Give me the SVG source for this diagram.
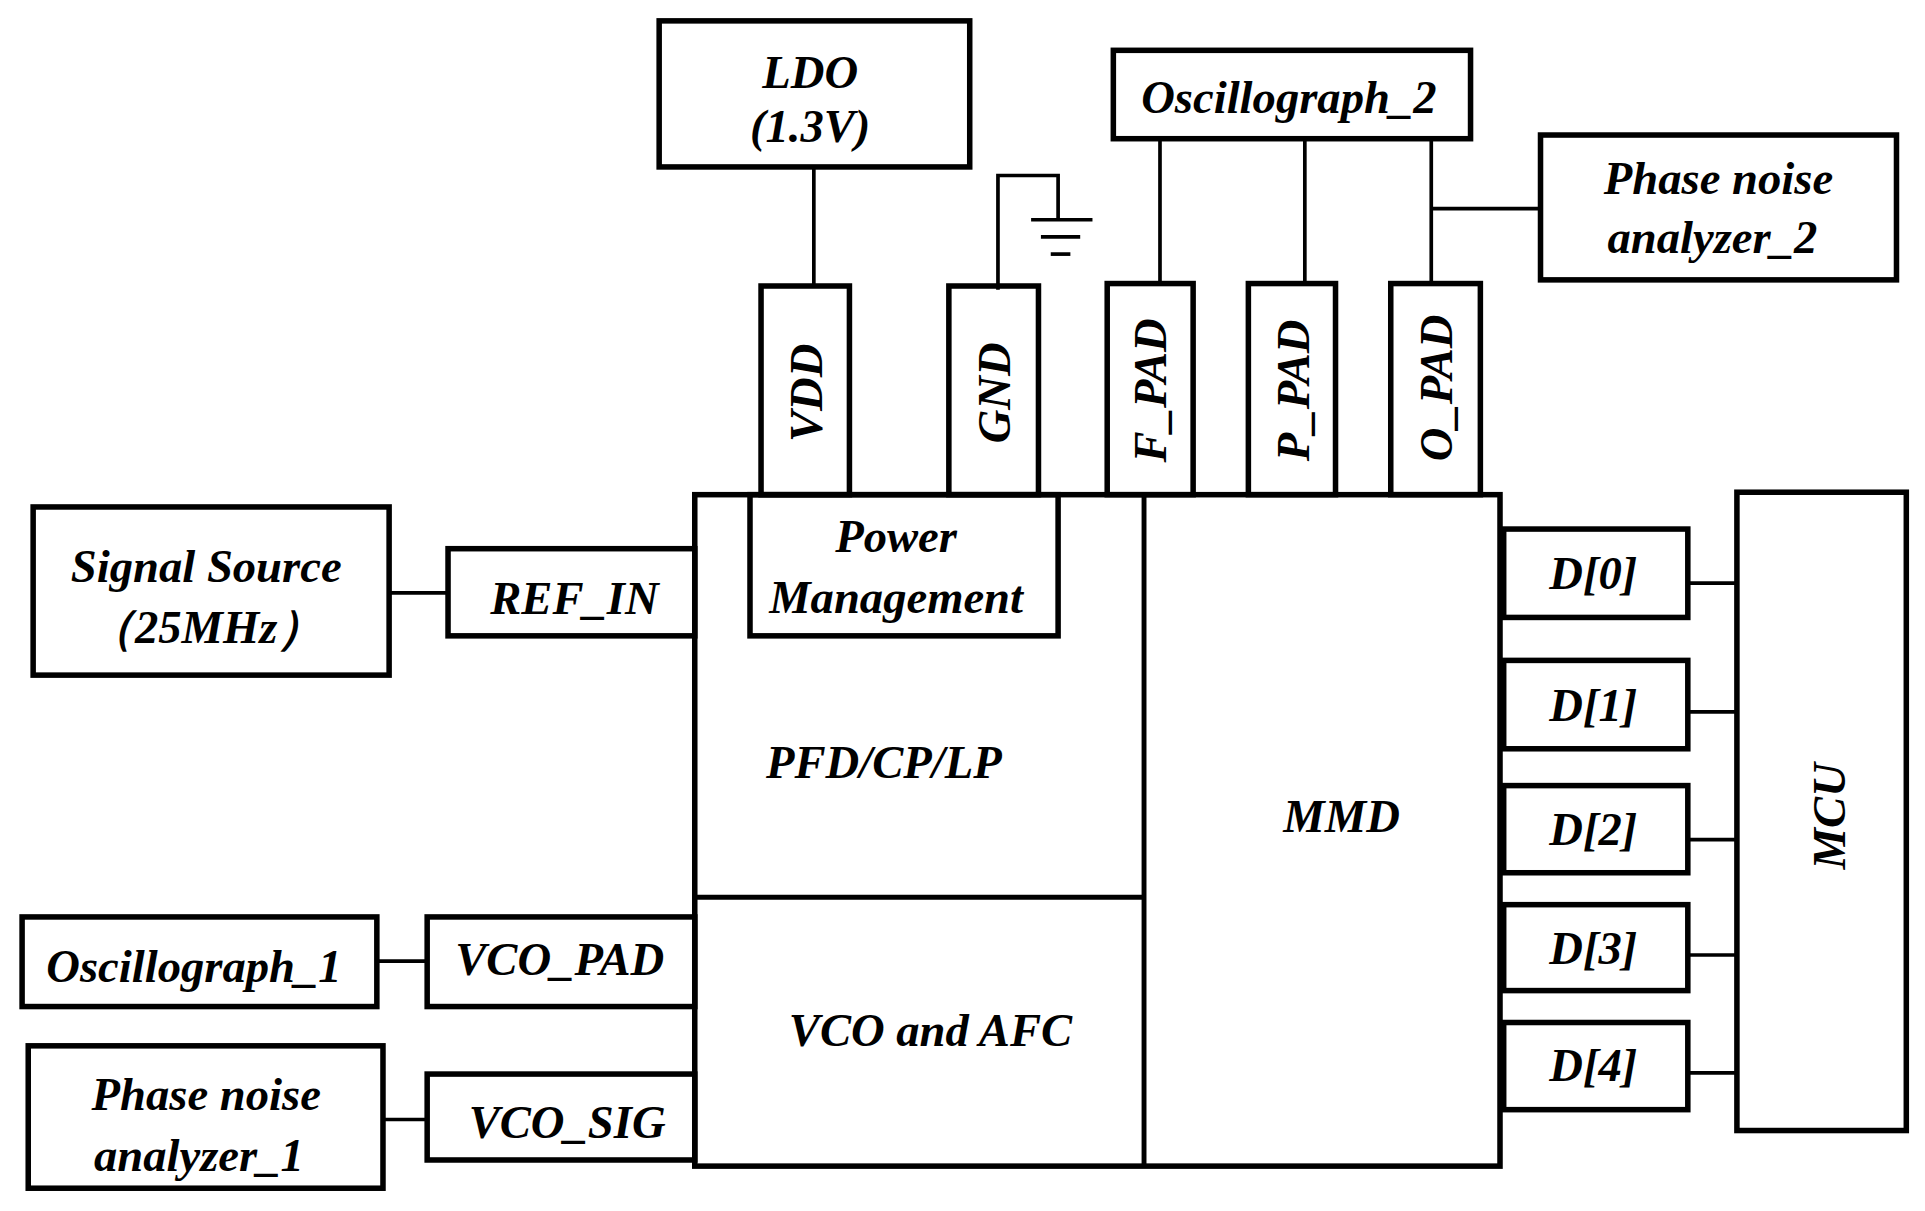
<svg xmlns="http://www.w3.org/2000/svg" width="1925" height="1211" viewBox="0 0 1925 1211">
<style>
rect{fill:none;stroke:#000;stroke-width:4.5}
line,polyline{stroke:#000;stroke-width:3;fill:none}
text{font-family:"Liberation Serif",serif;font-weight:bold;font-style:italic;font-size:38px;text-anchor:middle;fill:#000}
</style>
<rect x="0" y="0" width="1925" height="1211" style="fill:#fff;stroke:none"/>
<g transform="scale(1.2275)">
<g id="connectors">
<line x1="663" y1="136" x2="663" y2="233"/>
<polyline points="813,236 813,143 862,143 862,178"/>
<line x1="840" y1="179" x2="890" y2="179"/>
<line x1="848" y1="193" x2="880" y2="193"/>
<line x1="856" y1="207" x2="872" y2="207"/>
<line x1="945" y1="113" x2="945" y2="231"/>
<line x1="1063" y1="113" x2="1063" y2="231"/>
<line x1="1166" y1="113" x2="1166" y2="231"/>
<line x1="1166" y1="170" x2="1255" y2="170"/>
<line x1="317" y1="483" x2="365" y2="483"/>
<line x1="307" y1="783" x2="348" y2="783"/>
<line x1="312" y1="912" x2="348" y2="912"/>
<line x1="1375" y1="475" x2="1415" y2="475"/>
<line x1="1375" y1="580" x2="1415" y2="580"/>
<line x1="1375" y1="684" x2="1415" y2="684"/>
<line x1="1375" y1="778" x2="1415" y2="778"/>
<line x1="1375" y1="874" x2="1415" y2="874"/>
</g>
<g id="ldo"><rect x="537" y="17" width="253" height="119"/><text x="660" y="72">LDO</text><text x="660" y="116">(1.3V)</text></g>
<g id="vdd"><rect x="620" y="233" width="72" height="170"/><text transform="translate(670,320) rotate(-90)">VDD</text></g>
<g id="gnd"><rect x="773" y="233" width="73" height="170"/><text transform="translate(823,320) rotate(-90)">GND</text></g>
<g id="fpad"><rect x="902" y="231" width="70" height="172"/><text transform="translate(950,318) rotate(-90)">F_PAD</text></g>
<g id="ppad"><rect x="1017" y="231" width="71" height="172"/><text transform="translate(1066,318) rotate(-90)">P_PAD</text></g>
<g id="opad"><rect x="1133" y="231" width="73" height="172"/><text transform="translate(1183,316) rotate(-90)">O_PAD</text></g>
<g id="osc2"><rect x="907" y="41" width="291" height="72"/><text x="1050" y="92">Oscillograph_2</text></g>
<g id="pna2"><rect x="1255" y="110" width="290" height="118"/><text x="1400" y="158">Phase noise</text><text x="1395" y="206">analyzer_2</text></g>
<g id="chip"><rect x="566" y="403" width="656" height="547"/><line x1="932" y1="403" x2="932" y2="950" style="stroke-width:4"/><line x1="566" y1="731" x2="932" y2="731" style="stroke-width:4"/><text x="720" y="634">PFD/CP/LP</text><text x="1093" y="678">MMD</text><text x="758" y="852">VCO and AFC</text></g>
<g id="pm"><rect x="611" y="403" width="251" height="115"/><text x="730" y="450">Power</text><text x="730" y="499">Management</text></g>
<g id="sig"><rect x="27" y="413" width="290" height="137"/><text x="168" y="474">Signal Source</text><text x="168" y="524">（25MHz）</text></g>
<g id="refin"><rect x="365" y="447" width="201" height="71"/><text x="468" y="500">REF_IN</text></g>
<g id="osc1"><rect x="18" y="747" width="289" height="73"/><text x="158" y="800">Oscillograph_1</text></g>
<g id="vcopad"><rect x="348" y="747" width="218" height="73"/><text x="456" y="794">VCO_PAD</text></g>
<g id="pna1"><rect x="23" y="852" width="289" height="116"/><text x="168" y="904">Phase noise</text><text x="162" y="954">analyzer_1</text></g>
<g id="vcosig"><rect x="348" y="875" width="218" height="70"/><text x="462" y="927">VCO_SIG</text></g>
<g id="d0"><rect x="1225" y="431" width="150" height="72"/><text x="1298" y="480">D[0]</text></g>
<g id="d1"><rect x="1225" y="538" width="150" height="72"/><text x="1298" y="587">D[1]</text></g>
<g id="d2"><rect x="1225" y="640" width="150" height="71"/><text x="1298" y="688">D[2]</text></g>
<g id="d3"><rect x="1225" y="737" width="150" height="70"/><text x="1298" y="785">D[3]</text></g>
<g id="d4"><rect x="1225" y="833" width="150" height="71"/><text x="1298" y="881">D[4]</text></g>
<g id="mcu"><rect x="1415" y="401" width="138" height="520"/><text transform="translate(1503,665) rotate(-90)">MCU</text></g>
</g>
</svg>
